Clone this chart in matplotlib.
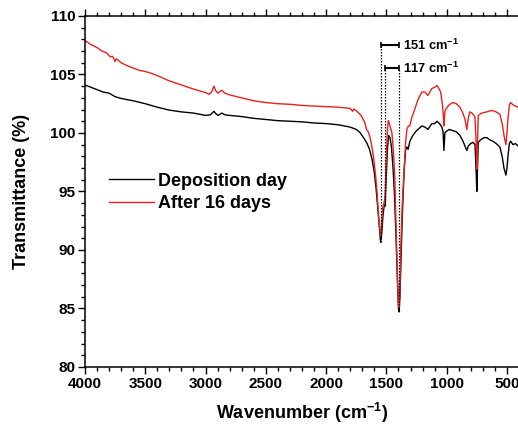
import matplotlib
matplotlib.use("Agg")
import matplotlib.pyplot as plt
from matplotlib.ticker import MultipleLocator

plt.rcParams['font.family'] = ['Liberation Sans', 'DejaVu Sans']
plt.rcParams['font.weight'] = 'bold'
plt.rcParams['mathtext.fontset'] = 'custom'
plt.rcParams['mathtext.rm'] = 'Liberation Sans:bold'
plt.rcParams['mathtext.bf'] = 'Liberation Sans:bold'
plt.rcParams['mathtext.default'] = 'bf'

# Deposition day (black)
wn_dep = [4000, 3950, 3900, 3850, 3800, 3750, 3700, 3600, 3500, 3400, 3300, 3200, 3100, 3000,
          2960, 2930, 2910, 2895, 2865, 2840, 2800, 2700, 2600, 2500, 2400, 2300, 2200, 2100,
          2000, 1900, 1800, 1750, 1720, 1690, 1665, 1640, 1620, 1600, 1585, 1570, 1557, 1548,
          1538, 1528, 1518, 1510, 1502, 1492, 1482, 1470, 1458, 1445, 1432, 1420, 1410, 1400,
          1395, 1388, 1378, 1366, 1352, 1340, 1330, 1320, 1305, 1280, 1250, 1206, 1180, 1156,
          1123, 1100, 1081, 1060, 1040, 1030, 1023, 1015, 1007, 980, 949, 920, 891, 865, 849,
          833, 820, 800, 783, 765, 755, 750, 745, 738, 720, 690, 667, 640, 617, 590, 559, 540,
          525, 509, 500, 492, 480, 470, 450, 430, 410]
t_dep = [104.1, 103.9, 103.7, 103.5, 103.4, 103.1, 102.95, 102.75, 102.5, 102.2, 101.95, 101.8,
         101.7, 101.5, 101.55, 101.85, 101.6, 101.5, 101.7, 101.55, 101.5, 101.4, 101.25, 101.15,
         101.05, 101.0, 100.95, 100.85, 100.8, 100.7, 100.5, 100.3, 100.05, 99.6, 99.2, 98.6,
         97.8, 96.6, 95.2, 93.4, 91.8, 90.65, 91.5, 93.0, 93.8, 93.9, 96.0, 98.5, 99.8, 99.6,
         98.8, 97.0, 94.5, 91.0, 87.8, 85.0, 84.7, 86.0, 89.5, 93.5, 97.0, 98.6, 98.8, 98.6,
         99.3, 99.8, 100.2, 100.6, 100.5, 100.3, 100.8, 100.8, 101.0, 100.8, 100.5, 100.1, 98.5,
         100.0, 100.1, 100.3, 100.2, 100.1, 99.8, 99.3, 98.9, 98.5, 98.9, 99.1, 99.2, 99.0, 96.5,
         95.0, 96.8, 99.2, 99.4, 99.6, 99.6, 99.4, 99.3, 99.1, 98.8, 98.0, 97.0, 96.4, 97.0,
         98.0, 99.1, 99.3, 99.0, 99.1, 98.9]

# After 16 days (red)
wn_16 = [4000, 3950, 3900, 3860, 3820, 3790, 3770, 3750, 3740, 3700, 3650, 3600, 3550, 3500,
         3450, 3400, 3300, 3200, 3100, 3000, 2970, 2950, 2930, 2915, 2897, 2880, 2864, 2840,
         2800, 2700, 2600, 2500, 2400, 2300, 2200, 2100, 2000, 1900, 1850, 1800, 1780, 1770,
         1750, 1730, 1710, 1695, 1680, 1665, 1650, 1635, 1620, 1605, 1590, 1578, 1565, 1555,
         1546, 1538, 1530, 1520, 1512, 1502, 1492, 1484, 1476, 1465, 1454, 1442, 1430, 1420,
         1410, 1400, 1395, 1388, 1380, 1368, 1355, 1340, 1330, 1318, 1306, 1290, 1264, 1240,
         1206, 1180, 1156, 1140, 1123, 1100, 1081, 1065, 1050, 1035, 1028, 1023, 1015, 1007,
         980, 949, 920, 891, 870, 849, 833, 820, 808, 790, 766, 755, 750, 745, 738, 710, 667,
         640, 617, 590, 559, 540, 525, 509, 500, 492, 480, 470, 450, 430, 410]
t_16 = [107.9, 107.55, 107.3, 107.0, 106.85, 106.5, 106.55, 106.1, 106.35, 106.0, 105.75, 105.55,
        105.35, 105.25, 105.1, 104.9, 104.45, 104.1, 103.75, 103.45, 103.3, 103.5, 104.0, 103.6,
        103.4, 103.55, 103.65, 103.4, 103.25, 103.0, 102.75, 102.6, 102.5, 102.45, 102.35, 102.3,
        102.25, 102.2, 102.15, 102.1, 101.85, 102.05, 101.9, 101.7, 101.5, 101.2, 100.9, 100.3,
        100.1, 99.6, 98.8, 97.8, 96.4, 95.0, 92.9, 91.8, 91.2, 92.5, 93.6, 94.0, 94.5, 97.5,
        100.2, 101.05, 100.8, 100.4, 100.0, 98.5, 96.0, 92.0, 88.2, 85.3, 85.1, 86.5, 90.3, 94.0,
        96.5, 99.3, 100.3, 100.6, 100.6, 101.3, 102.05, 102.8, 103.5, 103.5, 103.2, 103.5, 103.8,
        103.9, 104.05, 103.8, 103.5, 102.4, 101.5, 100.6, 101.8, 102.05, 102.4, 102.6, 102.5,
        102.2, 101.8, 101.2, 100.3, 101.3, 101.8, 101.7, 101.4, 99.0, 96.9, 99.0, 101.5, 101.7,
        101.8, 101.9, 101.9, 101.8, 101.6, 100.8, 99.8, 99.0, 100.0, 101.2, 102.4, 102.6, 102.4,
        102.3, 102.2]

labels = ["Deposition day", "After 16 days"]

# peak-separation markers
peak_lines_wn = [1548, 1512, 1393]
peak_lines_top = [107.5, 105.55, 105.55]
peak_lines_bottom = [90.7, 93.8, 84.8]
bar_starts = [1548, 1512]
bar_end = 1393
bar_y = [107.5, 105.55]
bar_texts = ["151 cm$^{-1}$", "117 cm$^{-1}$"]

fig = plt.figure(figsize=(5.18, 4.25), dpi=100)
ax = fig.add_axes([0.164, 0.1365, 0.838, 0.826])

ax.plot(wn_dep, t_dep, color='black', lw=1.0, label=labels[0])
ax.plot(wn_16, t_16, color='#e8221e', lw=1.0, label=labels[1])

for x, top, bot in zip(peak_lines_wn, peak_lines_top, peak_lines_bottom):
    ax.plot([x, x], [bot, top], color='black', lw=0.9, ls=(0, (1.2, 1.2)))
for xs, y, txt in zip(bar_starts, bar_y, bar_texts):
    ax.errorbar([(xs + bar_end) / 2], [y], xerr=[[(xs - bar_end) / 2]], color='black',
                lw=1.5, capsize=2.5, capthick=1.2)
    ax.text(1365, y, txt, fontsize=9.3, fontweight='bold', va='center', ha='left')

ax.set_xlim(4000, 400)
ax.set_ylim(80, 110)
ax.xaxis.set_major_locator(MultipleLocator(500))
ax.xaxis.set_minor_locator(MultipleLocator(100))
ax.yaxis.set_major_locator(MultipleLocator(5))
ax.yaxis.set_minor_locator(MultipleLocator(1))
ax.tick_params(which='both', direction='out', top=True, right=True, width=1.0, labelsize=11, pad=2)
ax.tick_params(which='major', length=5)
ax.tick_params(which='minor', length=3)
for s in ax.spines.values():
    s.set_linewidth(1.1)
for lab in ax.get_xticklabels() + ax.get_yticklabels():
    lab.set_fontweight('bold')

ax.set_xlabel("Wavenumber (cm$^{-1}$)", fontsize=13, fontweight='bold', labelpad=7)
ax.set_ylabel("Transmittance (%)", fontsize=13, fontweight='bold', labelpad=14)

leg = ax.legend(loc='center left', bbox_to_anchor=(0.055, 0.497), frameon=False,
                prop={'size': 13, 'weight': 'bold'}, handlelength=2.5, handletextpad=0.2,
                labelspacing=0.3, borderpad=0, borderaxespad=0)

fig.savefig("out.png", dpi=100)
